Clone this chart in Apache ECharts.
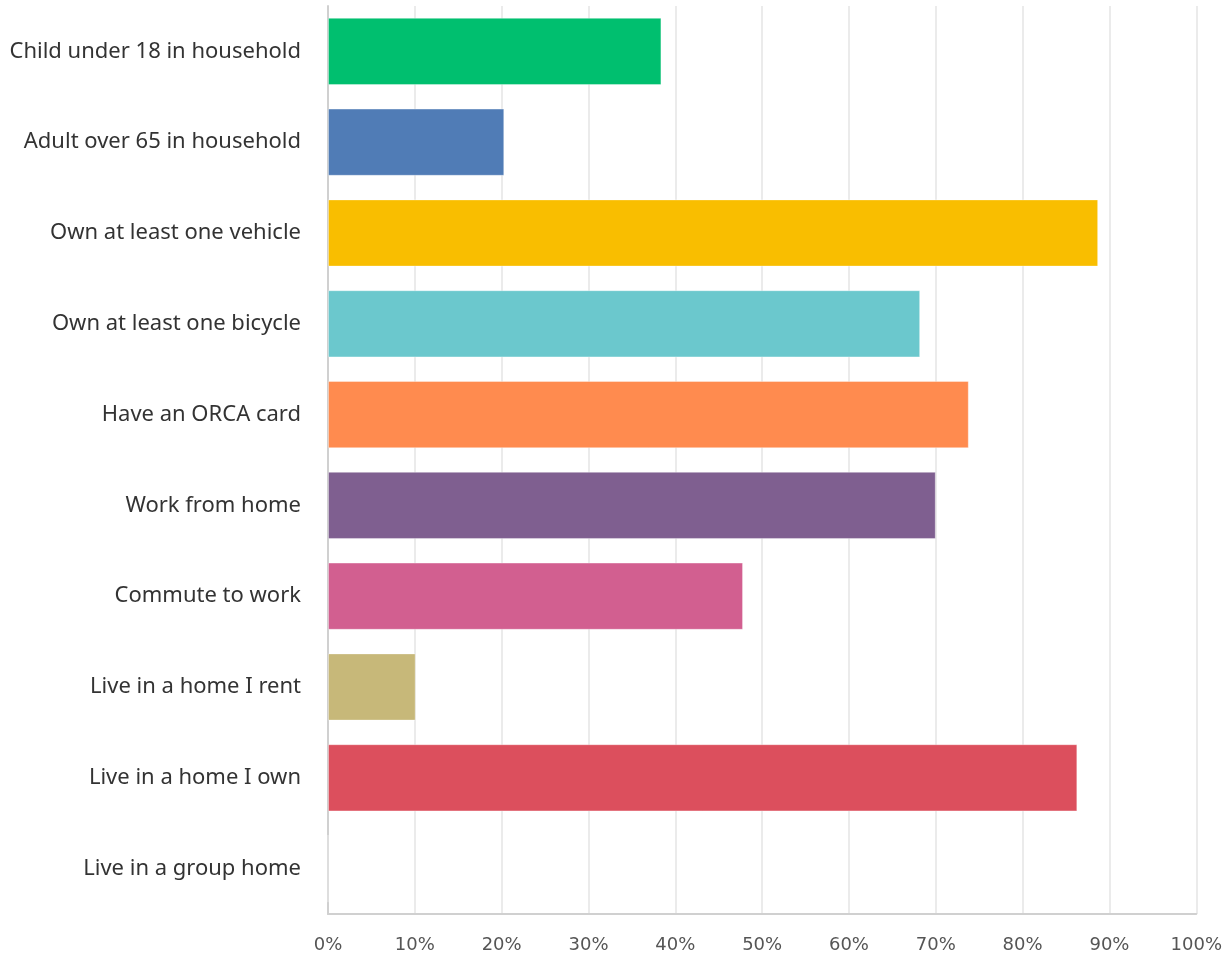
<!DOCTYPE html>
<html><head><meta charset="utf-8">
<script src="https://cdn.jsdelivr.net/npm/echarts@6/dist/echarts.min.js"></script>
<style>html,body{margin:0;padding:0;background:#fff}#c{width:1225px;height:959px}</style>
</head><body><div id="c"></div>
<script>
const categories = ["Child under 18 in household","Adult over 65 in household","Own at least one vehicle","Own at least one bicycle","Have an ORCA card","Work from home","Commute to work","Live in a home I rent","Live in a home I own","Live in a group home"];
const values = [38.4, 20.3, 88.7, 68.2, 73.8, 70.0, 47.8, 10.1, 86.3, 0];
const colors = ["#00BF6F","#507CB6","#F9BE00","#6BC8CD","#FF8B4F","#7F5F90","#D25F90","#C7B879","#DC4F5D","#999999"];
const tickLabels = ["0%","10%","20%","30%","40%","50%","60%","70%","80%","90%","100%"];

const chart = echarts.init(document.getElementById('c'));
chart.setOption({
  animation:false,
  grid:{left:328,right:27,top:6,bottom:45,containLabel:false},
  xAxis:{type:'value',min:0,max:100,interval:10,
    axisLine:{show:true,lineStyle:{color:'#d0d0d0',width:2}},
    axisTick:{show:false},
    splitLine:{show:true,lineStyle:{color:'#ebebeb',width:2}},
    axisLabel:{margin:22,color:'#555',fontSize:18,fontFamily:'DejaVu Sans',
      formatter:(v)=>tickLabels[Math.round(v/10)]}
  },
  yAxis:{type:'category',data:categories,inverse:true,
    axisLine:{show:true,lineStyle:{color:'#d0d0d0',width:2}},
    axisTick:{show:false},
    axisLabel:{margin:27,color:'#333',fontSize:22,fontFamily:'Noto Sans'}
  },
  series:[{type:'bar',barWidth:'74%',
    data:values.map((v,i)=>({value:v,itemStyle:{color:colors[i]}})),
    itemStyle:{borderColor:'rgba(255,255,255,0.35)',borderWidth:1}
  }]
});
</script></body></html>
